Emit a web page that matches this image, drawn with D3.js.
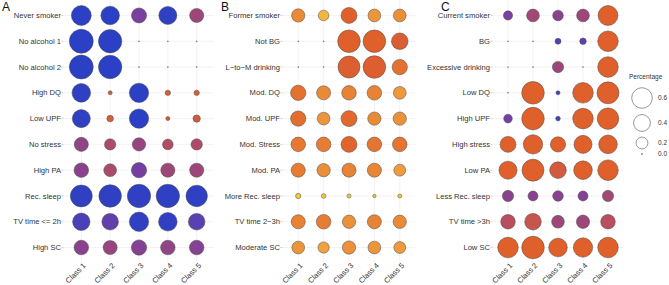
<!DOCTYPE html>
<html>
<head>
<meta charset="utf-8">
<script src="https://cdn.jsdelivr.net/npm/d3@7"></script>
<style>
  body { margin: 0; background: #fff; }
  text { font-family: "Liberation Sans", Arial, sans-serif; }
</style>
</head>
<body>
<div id="chart"></div>
<script>
// classes on x axis
var classes = ["Class 1", "Class 2", "Class 3", "Class 4", "Class 5"];

// panel A - healthy behaviours
var rowsA = ["Never smoker", "No alcohol 1", "No alcohol 2", "High DQ", "Low UPF",
  "No stress", "High PA", "Rec. sleep", "TV time <= 2h", "High SC"];
var pctA = [
  [0.56, 0.49, 0.32, 0.46, 0.28],
  [0.81, 0.77, 0, 0, 0],
  [0.81, 0.77, 0, 0, 0],
  [0.49, 0.023, 0.53, 0.04, 0.04],
  [0.46, 0.06, 0.53, 0.023, 0.077],
  [0.28, 0.18, 0.25, 0.16, 0.18],
  [0.30, 0.23, 0.33, 0.28, 0.28],
  [0.68, 0.72, 0.77, 0.77, 0.65],
  [0.43, 0.39, 0.53, 0.49, 0.39],
  [0.30, 0.28, 0.33, 0.30, 0.30]
];
var scoreA = [
  [0.0, 0.0, 0.35, 0.02, 0.5],
  [0.0, 0.0, 0.5, 0.5, 0.5],
  [0.0, 0.0, 0.5, 0.5, 0.5],
  [0.02, 0.7, 0.0, 0.7, 0.7],
  [0.02, 0.7, 0.0, 0.68, 0.68],
  [0.45, 0.55, 0.48, 0.58, 0.56],
  [0.42, 0.55, 0.33, 0.5, 0.5],
  [0.02, 0.02, 0.02, 0.02, 0.02],
  [0.15, 0.25, 0.02, 0.03, 0.22],
  [0.42, 0.48, 0.4, 0.45, 0.4]
];

// panel B - moderate behaviours
var rowsB = ["Former smoker", "Not BG", "L\u2212to\u2212M drinking", "Mod. DQ", "Mod. UPF",
  "Mod. Stress", "Mod. PA", "More Rec. sleep", "TV time 2\u22123h", "Moderate SC"];
var pctB = [
  [0.25, 0.16, 0.36, 0.23, 0.23],
  [0, 0, 0.72, 0.72, 0.39],
  [0, 0, 0.68, 0.72, 0.33],
  [0.33, 0.28, 0.30, 0.30, 0.23],
  [0.33, 0.23, 0.36, 0.25, 0.25],
  [0.30, 0.30, 0.36, 0.30, 0.30],
  [0.28, 0.25, 0.28, 0.28, 0.20],
  [0.04, 0.03, 0.023, 0.016, 0.023],
  [0.28, 0.30, 0.25, 0.28, 0.25],
  [0.23, 0.18, 0.25, 0.23, 0.20]
];
var scoreB = [
  [0.82, 0.93, 0.72, 0.85, 0.83],
  [0.5, 0.5, 0.72, 0.72, 0.7],
  [0.5, 0.5, 0.71, 0.71, 0.76],
  [0.76, 0.82, 0.8, 0.8, 0.86],
  [0.75, 0.85, 0.74, 0.82, 0.84],
  [0.78, 0.79, 0.73, 0.77, 0.77],
  [0.79, 0.83, 0.8, 0.81, 0.87],
  [0.97, 0.97, 0.97, 0.97, 0.97],
  [0.8, 0.79, 0.84, 0.8, 0.82],
  [0.85, 0.88, 0.84, 0.85, 0.86]
];

// panel C - unhealthy behaviours
var rowsC = ["Current smoker", "BG", "Excessive drinking", "Low DQ", "High UPF",
  "High stress", "Low PA", "Less Rec. sleep", "TV time >3h", "Low SC"];
var pctC = [
  [0.12, 0.23, 0.16, 0.23, 0.56],
  [0, 0, 0.05, 0.06, 0.60],
  [0, 0, 0.18, 0, 0.60],
  [0, 0.72, 0.023, 0.60, 0.68],
  [0.105, 0.72, 0.03, 0.60, 0.65],
  [0.36, 0.53, 0.33, 0.46, 0.49],
  [0.46, 0.68, 0.39, 0.49, 0.60],
  [0.18, 0.14, 0.16, 0.14, 0.18],
  [0.30, 0.39, 0.23, 0.25, 0.30],
  [0.60, 0.72, 0.49, 0.53, 0.60]
];
var scoreC = [
  [0.35, 0.52, 0.42, 0.5, 0.72],
  [0.5, 0.5, 0.2, 0.22, 0.72],
  [0.5, 0.5, 0.5, 0.5, 0.72],
  [0.5, 0.72, 0.1, 0.72, 0.72],
  [0.32, 0.72, 0.1, 0.72, 0.72],
  [0.72, 0.72, 0.72, 0.72, 0.72],
  [0.72, 0.72, 0.68, 0.72, 0.72],
  [0.42, 0.42, 0.42, 0.4, 0.52],
  [0.6, 0.64, 0.5, 0.5, 0.6],
  [0.72, 0.72, 0.72, 0.72, 0.72]
];

// legend breaks
var legendBreaks = [0.6, 0.4, 0.2, 0.0];

var panels = [
  { letter: "A", rows: rowsA, pct: pctA, score: scoreA, left: 64, right: 214, letterX: 2 },
  { letter: "B", rows: rowsB, pct: pctB, score: scoreB, left: 283, right: 415, letterX: 221 },
  { letter: "C", rows: rowsC, pct: pctC, score: scoreC, left: 493, right: 623, letterX: 441 }
];

var width = 669, height = 285;

var svg = d3.select("#chart").append("svg")
  .attr("width", width)
  .attr("height", height);

// size and colour scales
var r = d3.scaleSqrt().domain([0, 0.6]).range([0, 10.3]);
var colour = d3.scaleLinear()
  .domain([0, 0.2, 0.35, 0.5, 0.6, 0.72, 0.82, 0.9, 1])
  .range(["#2b40c4", "#5540b4", "#7a3f9f", "#9c467a", "#b94f5e", "#e0602b", "#ea8a36", "#f0a742", "#f0d83c"]);

var y = d3.scalePoint().range([0, 263]).padding(0.6);

panels.forEach(function (p) {
  var x = d3.scalePoint().domain(classes).range([p.left, p.right]).padding(0.6);
  y.domain(p.rows);

  var g = svg.append("g");

  // grid lines
  g.selectAll(".hgrid").data(p.rows).join("line")
    .attr("x1", p.left).attr("x2", p.right)
    .attr("y1", function (d) { return y(d); })
    .attr("y2", function (d) { return y(d); })
    .attr("stroke", "#ebebeb").attr("stroke-width", 0.6);
  g.selectAll(".vgrid").data(classes).join("line")
    .attr("x1", function (d) { return x(d); })
    .attr("x2", function (d) { return x(d); })
    .attr("y1", 0).attr("y2", 263)
    .attr("stroke", "#ebebeb").attr("stroke-width", 0.6);

  // small y ticks
  g.selectAll(".ytick").data(p.rows).join("line")
    .attr("x1", p.left - 2.5).attr("x2", p.left - 0.5)
    .attr("y1", function (d) { return y(d); })
    .attr("y2", function (d) { return y(d); })
    .attr("stroke", "#999").attr("stroke-width", 0.5);

  // row labels
  g.selectAll(".rowlab").data(p.rows).join("text")
    .attr("x", p.left - 3)
    .attr("y", function (d) { return y(d); })
    .attr("dy", "0.35em")
    .attr("text-anchor", "end")
    .attr("font-size", 7.6)
    .attr("fill", "#333")
    .text(function (d) { return d; });

  // class labels
  g.selectAll(".collab").data(classes).join("text")
    .attr("text-anchor", "end")
    .attr("font-size", 7.5)
    .attr("fill", "#333")
    .attr("transform", function (d) { return "translate(" + (x(d) + 5) + ",266) rotate(-45)"; })
    .text(function (d) { return d; });

  // bubbles
  var cells = [];
  p.rows.forEach(function (row, i) {
    classes.forEach(function (c, j) {
      cells.push({ row: row, cls: c, v: p.pct[i][j], s: p.score[i][j] });
    });
  });

  g.selectAll("circle").data(cells).join("circle")
    .attr("cx", function (d) { return x(d.cls); })
    .attr("cy", function (d) { return y(d.row); })
    .attr("r", function (d) { return d.v > 0 ? r(d.v) : 0.5; })
    .attr("fill", function (d) { return d.v > 0 ? colour(d.s) : "#555"; })
    .attr("stroke", "#4a4a4a")
    .attr("stroke-width", function (d) { return d.v > 0 ? 0.5 : 0.3; });

  // panel letter
  svg.append("text")
    .attr("x", p.letterX)
    .attr("y", 11)
    .attr("font-size", 12)
    .attr("fill", "#111")
    .text(p.letter);
});

// size legend
var legend = svg.append("g");
legend.append("text")
  .attr("x", 629).attr("y", 79)
  .attr("font-size", 6.5).attr("fill", "#333")
  .text("Percentage");

var legendY = d3.scaleOrdinal().domain(legendBreaks).range([98, 123, 143, 154]);
legend.selectAll("circle").data(legendBreaks).join("circle")
  .attr("cx", 642)
  .attr("cy", function (d) { return legendY(d); })
  .attr("r", function (d) { return d > 0 ? r(d) : 0.5; })
  .attr("fill", function (d) { return d > 0 ? "#fff" : "#555"; })
  .attr("stroke", "#555")
  .attr("stroke-width", 0.6);
legend.selectAll(".leglab").data(legendBreaks).join("text")
  .attr("x", 658)
  .attr("y", function (d) { return legendY(d); })
  .attr("dy", "0.35em")
  .attr("font-size", 6.5).attr("fill", "#333")
  .text(function (d) { return d3.format(".1f")(d); });
</script>
</body>
</html>
